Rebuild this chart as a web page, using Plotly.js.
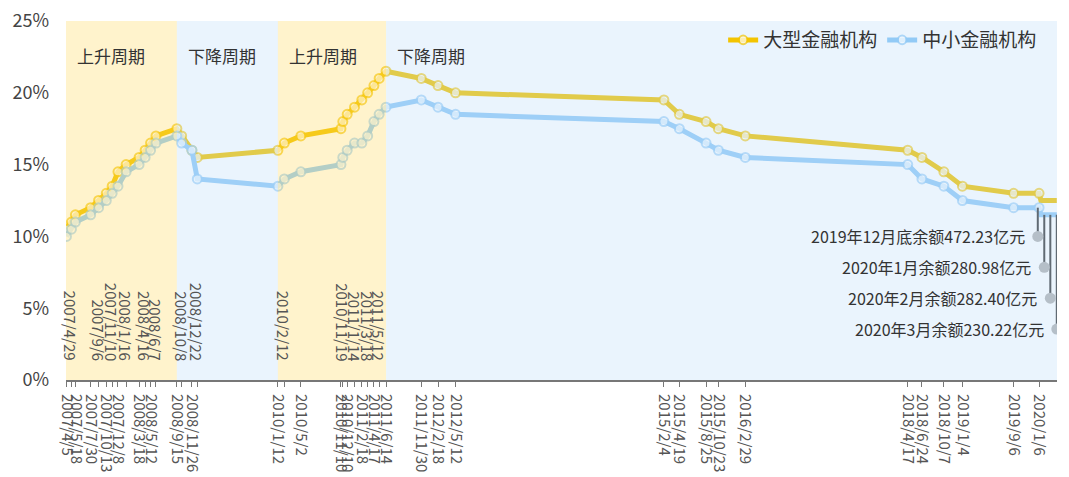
<!DOCTYPE html>
<html>
<head>
<meta charset="utf-8">
<script src="https://cdn.plot.ly/plotly-3.0.1.min.js"></script>
<style>
body { margin: 0; background: #fff; }
#rrr-plot { width: 1069px; height: 477px; }
</style>
</head>
<body>
<div id="rrr-plot"></div>
<script>
// 存款准备金率调整日期与调整后比例（%）
const dates = [
    '2007/4/5', '2007/4/29', '2007/5/18', '2007/7/30', '2007/9/6', '2007/10/13', '2007/11/10', '2007/12/8',
    '2008/1/16', '2008/3/18', '2008/4/16', '2008/5/12', '2008/6/7', '2008/9/15', '2008/10/8', '2008/11/26', '2008/12/22',
    '2010/1/12', '2010/2/12', '2010/5/2', '2010/11/10', '2010/11/19', '2010/12/10',
    '2011/1/14', '2011/2/18', '2011/3/18', '2011/4/17', '2011/5/12', '2011/6/14', '2011/11/30',
    '2012/2/18', '2012/5/12',
    '2015/2/4', '2015/4/19', '2015/8/25', '2015/10/23', '2016/2/29',
    '2018/4/17', '2018/6/24', '2018/10/7', '2019/1/4', '2019/9/6', '2020/1/6'
];
const largeRate = [
    10.5, 11, 11.5, 12, 12.5, 13, 13.5, 14.5,
    15, 15.5, 16, 16.5, 17, 17.5, 17, 16, 15.5,
    16, 16.5, 17, 17.5, 18, 18.5,
    19, 19.5, 20, 20.5, 21, 21.5, 21,
    20.5, 20,
    19.5, 18.5, 18, 17.5, 17,
    16, 15.5, 14.5, 13.5, 13, 13
];
const smallRate = [
    10, 10.5, 11, 11.5, 12, 12.5, 13, 13.5,
    14.5, 15, 15.5, 16, 16.5, 17, 16.5, 16, 14,
    13.5, 14, 14.5, 15, 15.5, 16,
    16.5, 16.5, 17, 18, 18.5, 19, 19.5,
    19, 18.5,
    18, 17.5, 16.5, 16, 15.5,
    15, 14, 13.5, 12.5, 12, 12
];
// 末段（无标记）
const tailDates = ['2020/1/15', '2020/3/31'];
const largeTail = [12.5, 12.5];
const smallTail = [11.5, 11.5];

// 周期分段
const cycleStarts = ['2007/4/3', '2008/9/15', '2010/1/12', '2011/6/14'];
const cycleNames = ['上升周期', '下降周期', '上升周期', '下降周期'];
const rangeEnd = '2020/4/1';

// 余额说明
const noteDates = ['2019/12/31', '2020/1/31', '2020/2/29', '2020/3/31'];
const noteTexts = [
    '2019年12月底余额472.23亿元',
    '2020年1月余额280.98亿元',
    '2020年2月余额282.40亿元',
    '2020年3月余额230.22亿元'
];

// 标在轴线上方的日期
const labelsAbove = [
    '2007/4/29', '2007/9/6', '2007/11/10', '2008/1/16', '2008/4/16', '2008/6/7', '2008/10/8', '2008/12/22',
    '2010/2/12', '2010/11/19', '2011/1/14', '2011/3/18', '2011/5/12'
];

const iso = s => s.split('/').map((v, i) => i ? v.padStart(2, '0') : v).join('-');

const YELLOW = '#F3C400';
const BLUE = '#92CAF6';
const FONT = 'Noto Sans CJK SC, sans-serif';

const allDates = dates.concat(tailDates).map(iso);
const markerSizes = dates.map(() => 9).concat(tailDates.map(() => 0));

function seriesTrace(name, values, tail, color) {
    return {
        x: allDates,
        y: values.concat(tail),
        name: name,
        mode: 'lines+markers',
        line: {width: 5, color: color},
        marker: {
            size: markerSizes,
            color: '#fff',
            line: {width: 2, color: color}
        },
        hoverinfo: 'x+y'
    };
}

const smallAll = smallRate.concat(smallTail);
function smallLevelAt(d) {
    let level = smallAll[0];
    allDates.forEach((x, i) => { if (x <= d) level = smallAll[i]; });
    return level;
}

const noteY = noteDates.map((_, i) => 10 - i * 2.15);
const pinX = [], pinY = [];
noteDates.forEach((d, i) => {
    pinX.push(iso(d), iso(d), null);
    pinY.push(smallLevelAt(iso(d)), noteY[i], null);
});

const data = [
    seriesTrace('大型金融机构', largeRate, largeTail, YELLOW),
    seriesTrace('中小金融机构', smallRate, smallTail, BLUE),
    {
        x: pinX, y: pinY, mode: 'lines',
        line: {width: 2, color: '#3a3a3a'},
        showlegend: false, hoverinfo: 'skip'
    },
    {
        x: noteDates.map(iso), y: noteY, mode: 'markers',
        marker: {size: 11, color: '#b4b4b4'},
        showlegend: false, hoverinfo: 'skip'
    }
];

const shapes = cycleStarts.map((s, i) => ({
    type: 'rect',
    xref: 'x', yref: 'paper',
    x0: iso(s),
    x1: iso(i + 1 < cycleStarts.length ? cycleStarts[i + 1] : rangeEnd),
    y0: 0, y1: 1,
    fillcolor: i % 2 === 0 ? '#FFD755' : '#B9DAF8',
    opacity: 0.3,
    line: {width: 0},
    layer: 'above'
}));

const annotations = [];
cycleStarts.forEach((s, i) => {
    annotations.push({
        text: cycleNames[i],
        x: iso(s), y: 0.905,
        xref: 'x', yref: 'paper',
        xanchor: 'left', yanchor: 'middle',
        xshift: 9,
        showarrow: false,
        font: {size: 17, color: '#333', family: FONT}
    });
});
labelsAbove.forEach(d => {
    annotations.push({
        text: d,
        x: iso(d), y: 0,
        xref: 'x', yref: 'paper',
        xanchor: 'center', yanchor: 'bottom',
        yshift: 17,
        textangle: 90,
        showarrow: false,
        font: {size: 15, color: '#555', family: FONT}
    });
});
noteDates.forEach((d, i) => {
    annotations.push({
        text: noteTexts[i],
        x: iso(d), y: noteY[i],
        xref: 'x', yref: 'y',
        xanchor: 'right', yanchor: 'middle',
        xshift: -11,
        showarrow: false,
        font: {size: 16, color: '#333', family: FONT}
    });
});

const layout = {
    width: 1069,
    height: 477,
    margin: {l: 66, r: 12, t: 21, b: 97},
    paper_bgcolor: '#fff',
    plot_bgcolor: '#fff',
    font: {family: FONT, color: '#444'},
    showlegend: true,
    legend: {
        orientation: 'h',
        x: 0.985, xanchor: 'right',
        y: 0.947, yanchor: 'middle',
        bgcolor: 'rgba(0,0,0,0)',
        font: {size: 19, color: '#333', family: FONT}
    },
    xaxis: {
        type: 'date',
        range: [iso(cycleStarts[0]), iso(rangeEnd)],
        tickvals: dates.map(iso),
        ticktext: dates.map(d => labelsAbove.includes(d) ? '' : d),
        tickangle: 90,
        ticks: 'outside',
        ticklen: 5,
        tickcolor: '#777',
        ticklabelstandoff: 4,
        showline: true,
        linecolor: '#777',
        linewidth: 2,
        showgrid: false,
        zeroline: false,
        tickfont: {size: 15, color: '#555', family: FONT}
    },
    yaxis: {
        range: [0, 25],
        dtick: 5,
        ticksuffix: '%',
        showgrid: false,
        zeroline: false,
        showline: false,
        ticks: '',
        ticklabelstandoff: 16,
        tickfont: {size: 18, color: '#444', family: FONT}
    },
    shapes: shapes,
    annotations: annotations
};

Plotly.newPlot('rrr-plot', data, layout, {displayModeBar: false});
</script>
</body>
</html>
